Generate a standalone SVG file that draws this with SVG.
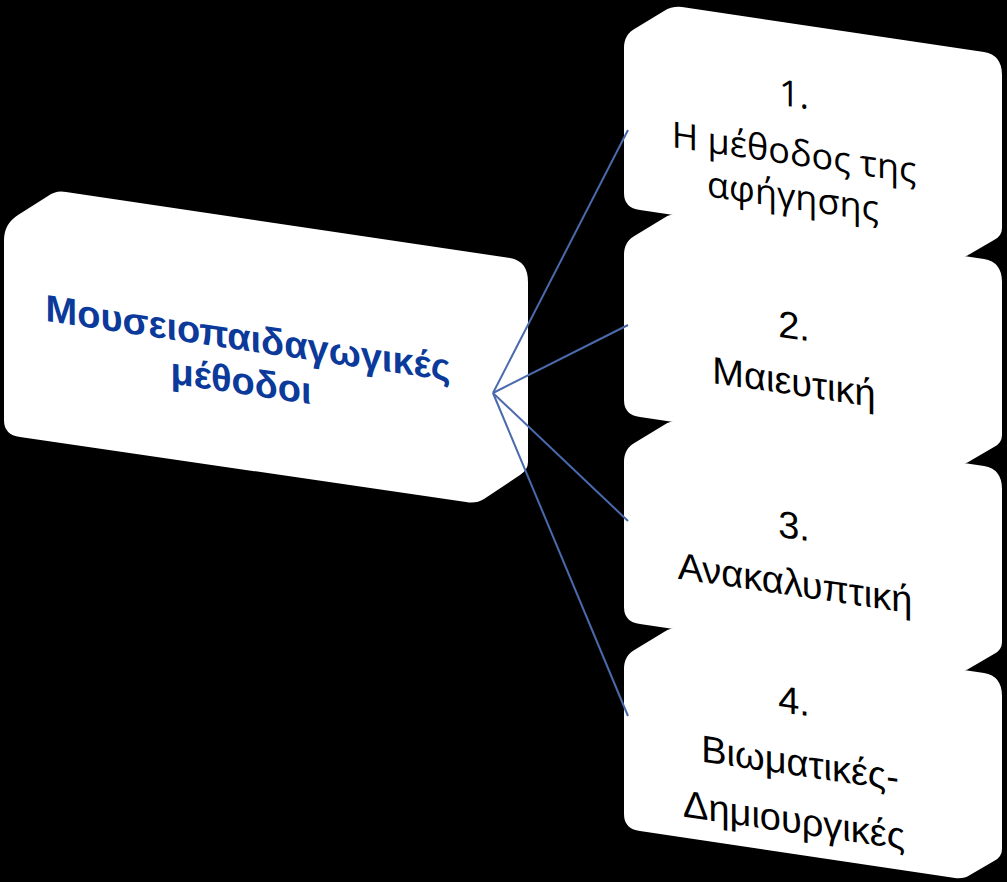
<svg xmlns="http://www.w3.org/2000/svg" width="1007" height="882" viewBox="0 0 1007 882">
  <defs>
    <path id="rnode" d="M624,48 Q624,34 636,28 L664,11 Q672,6 682,7 L984,52 Q1002,55 1002,75 L1002,228 Q1002,236 994,240 L970,254 Q964,258 955,257 L640,210 Q624,208 624,193 Z"/>
  </defs>
  <style>
    .box { fill: #ffffff; }
    .main-t { font-family: "Liberation Sans", Arial, sans-serif; font-weight: bold; font-size: 38px; fill: #0b3a9a; text-anchor: middle; }
    .t { font-family: "Liberation Sans", Arial, sans-serif; font-size: 38px; fill: #000000; text-anchor: middle; }
    .t1 { font-family: "Open Sans", "Liberation Sans", sans-serif; font-size: 36px; fill: #000000; text-anchor: middle; }
    .conn { stroke: #4a6aae; stroke-width: 2; fill: none; }
  </style>
  <rect x="0" y="0" width="1007" height="882" fill="#000000"/>

  <g id="main">
    <path class="box" d="M4,240 Q4,224 18,215 L48,196 Q56,190 66,192 L510,258 Q528,261 528,282 L528,462 Q528,470 520,475 L484,499 Q476,504 466,502 L20,437 Q4,435 4,420 Z"/>
    <text class="main-t" transform="translate(248,351) skewY(8.4)">Μουσειοπαιδαγωγικές</text>
    <text class="main-t" transform="translate(241,394) skewY(8.4)">μέθοδοι</text>
  </g>

  <g id="node1">
    <use href="#rnode" class="box"/>
    <text class="t1" transform="translate(794,107) skewY(8.4)">1.</text>
    <text class="t1" transform="translate(794,165) skewY(8.4)">Η μέθοδος της</text>
    <text class="t1" transform="translate(793,209) skewY(8.4)">αφήγησης</text>
  </g>

  <g id="node2">
    <use href="#rnode" class="box" transform="translate(0,207)"/>
    <text class="t" transform="translate(794,339) skewY(8.4)">2.</text>
    <text class="t" transform="translate(794,395) skewY(8.4)">Μαιευτική</text>
  </g>

  <g id="node3">
    <use href="#rnode" class="box" transform="translate(0,414)"/>
    <text class="t" transform="translate(794,539) skewY(8.4)">3.</text>
    <text class="t" transform="translate(795,596) skewY(8.4)">Ανακαλυπτική</text>
  </g>

  <g id="node4">
    <use href="#rnode" class="box" transform="translate(0,621)"/>
    <text class="t" transform="translate(794,714) skewY(8.4)">4.</text>
    <text class="t" transform="translate(800,776) skewY(8.4)">Βιωματικές-</text>
    <text class="t" transform="translate(794,833) skewY(8.4)">Δημιουργικές</text>
  </g>

  <g id="connectors">
    <line class="conn" x1="493" y1="393" x2="628" y2="130"/>
    <line class="conn" x1="493" y1="393" x2="628" y2="325"/>
    <line class="conn" x1="493" y1="393" x2="628" y2="521"/>
    <line class="conn" x1="493" y1="393" x2="628" y2="716"/>
  </g>
</svg>
